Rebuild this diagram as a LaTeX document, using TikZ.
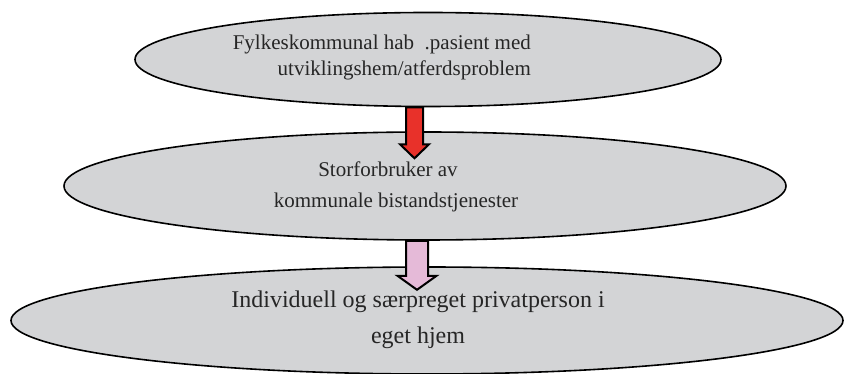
\documentclass[tikz,border=0pt]{standalone}
\usepackage{fontspec}
\setmainfont{Liberation Serif}
\usetikzlibrary{shapes.geometric,calc}
\definecolor{ellgrey}{HTML}{D3D4D6}
\definecolor{arrred}{HTML}{E8312A}
\definecolor{arrpink}{HTML}{E5BAD8}
\tikzset{
  oval/.style={ellipse, draw=black, line width=1.6pt, fill=ellgrey, inner sep=0pt},
  lbl/.style={inner sep=0pt, text=black!85},
  blockarrow/.style={draw=black, line width=2pt, line join=miter}
}
\begin{document}
\begin{tikzpicture}[x=1pt,y=1pt]
\useasboundingbox (0,0) rectangle (845,374);
% ellipses
\node[oval, minimum width=586pt, minimum height=94pt] (e1) at (428,314.5) {};
\node[oval, minimum width=722pt, minimum height=108pt] (e2) at (425,188) {};
\node[oval, minimum width=832pt, minimum height=107pt] (e3) at (427,53.5) {};
% texts
\node[lbl, anchor=mid east, font=\fontsize{21}{25}\selectfont] (t1a) at (531,327) {Fylkeskommunal hab \ .pasient med};
\node[lbl, anchor=mid east, font=\fontsize{21}{25}\selectfont] (t1b) at (531,301) {utviklingshem/atferdsproblem};
\node[lbl, anchor=mid, font=\fontsize{21}{25}\selectfont] (t2a) at (388,200) {Storforbruker av};
\node[lbl, anchor=mid, font=\fontsize{21}{25}\selectfont] (t2b) at (396,169) {kommunale bistandstjenester};
\node[lbl, anchor=mid, font=\fontsize{24}{28}\selectfont] (t3a) at (418,69) {Individuell og særpreget privatperson i};
\node[lbl, anchor=mid, font=\fontsize{24}{28}\selectfont] (t3b) at (418,33) {eget hjem};
% red arrow from e1 to e2
\coordinate (r0) at ($(e1.south)+(-13.5,0)$);
\draw[blockarrow, fill=arrred]
  ($(r0)+(-8.5,0)$) -- ($(r0)+(-8.5,-37)$) -- ($(r0)+(-14.5,-37)$) -- ($(r0)+(0,-51)$)
  -- ($(r0)+(14.5,-37)$) -- ($(r0)+(8.5,-37)$) -- ($(r0)+(8.5,0)$) -- cycle;
% pink arrow from e2 to e3
\coordinate (p0) at ($(e2.south)+(-8,0)$);
\draw[blockarrow, fill=arrpink]
  ($(p0)+(-11,0)$) -- ($(p0)+(-11,-35)$) -- ($(p0)+(-19.5,-35)$) -- ($(p0)+(0,-49)$)
  -- ($(p0)+(19.5,-35)$) -- ($(p0)+(11,-35)$) -- ($(p0)+(11,0)$) -- cycle;
\end{tikzpicture}
\end{document}
